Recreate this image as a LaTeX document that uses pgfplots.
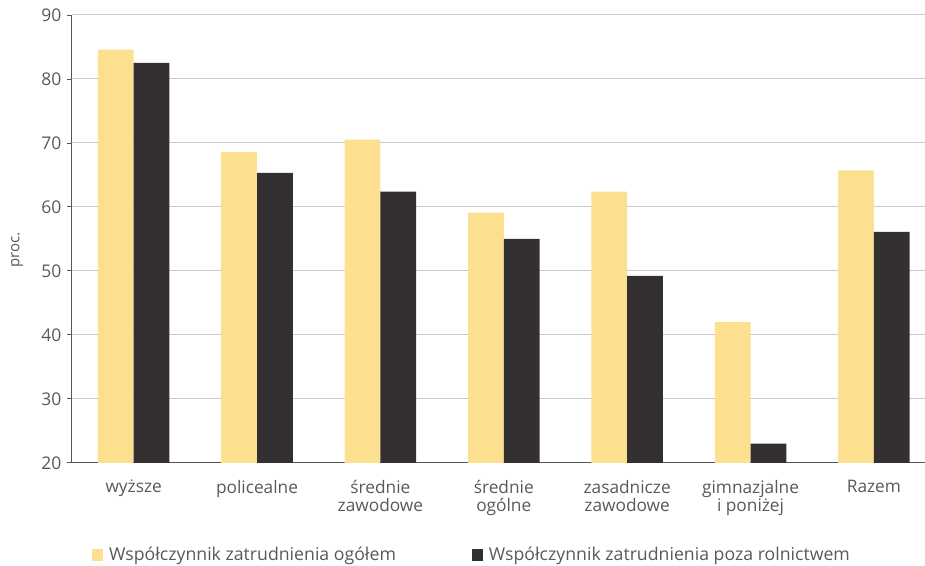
\documentclass[border=0pt]{standalone}
\usepackage{pgfplots}
\pgfplotsset{compat=1.18}
\usepackage{fontspec}
\setmainfont{Open Sans}
\definecolor{barY}{HTML}{FCE08F}
\definecolor{barD}{HTML}{343031}
\definecolor{gridc}{HTML}{C8C8C8}
\definecolor{axc}{HTML}{555555}
\definecolor{txt}{HTML}{58595B}
\begin{document}
\begin{tikzpicture}[x=1pt,y=1pt]
\begin{axis}[
  at={(0,0)}, anchor=south west,
  scale only axis, width=853pt, height=448pt,
  /pgf/number format/assume math mode=true,
  ybar, bar width=0.29,
  ymin=20, ymax=90, ytick={20,30,...,90},
  xmin=-0.5, xmax=6.41,
  xtick={0,...,6},
  xticklabels={wyższe, policealne, średnie\\zawodowe, średnie\\ogólne, zasadnicze\\zawodowe, gimnazjalne\\i poniżej, Razem},
  xticklabel style={align=center, font=\fontsize{17.3}{18}\selectfont, text=txt, anchor=north, yshift=-9pt},
  x tick style={draw=none},
  extra x ticks={-0.5,0.5,1.5,2.5,3.5,4.5,5.5},
  extra x tick labels={},
  extra x tick style={tick align=outside, major tick length=6pt, tick style={draw=axc, line width=0.9pt}, grid=none},
  ymajorgrids, grid style={gridc, line width=1pt},
  y tick style={draw=axc, line width=0.8pt},
  tick align=outside, major tick length=5pt,
  yticklabel style={font=\fontsize{17.5}{17}\selectfont, text=txt, xshift=-2pt},
  axis x line*=bottom, axis y line*=left,
  axis line style={axc, line width=1pt, -},
  ylabel={proc.},
  ylabel style={font=\fontsize{15}{15}\selectfont, text=txt, at={(axis description cs:-0.0645,0.475)}, anchor=center},
  legend columns=2,
  legend style={draw=none, fill=none, at={(axis description cs:0.0234,-0.205)}, anchor=west, font=\fontsize{17.7}{19}\selectfont, text=txt, column sep=0pt, inner sep=0pt, nodes={inner sep=3pt}},
  legend image code/.code={\fill[#1] (0pt,-6pt) rectangle (11pt,6pt);},
  clip=false,
]
\addplot[fill=barY, draw=none, bar shift=-0.145] coordinates {(0,84.6) (1,68.6) (2,70.5) (3,59.1) (4,62.4) (5,42.0) (6,65.7)};
\addlegendentry{\hspace{3pt}\makebox[360pt][l]{Współczynnik zatrudnienia ogółem}}
\addplot[fill=barD, draw=none, bar shift=0.145] coordinates {(0,82.5) (1,65.3) (2,62.4) (3,55.0) (4,49.2) (5,23.0) (6,56.1)};
\addlegendentry{\hspace{3pt}Współczynnik zatrudnienia poza rolnictwem}
\end{axis}
\path[use as bounding box] (-72,-103) rectangle (853,463);
\end{tikzpicture}
\end{document}
